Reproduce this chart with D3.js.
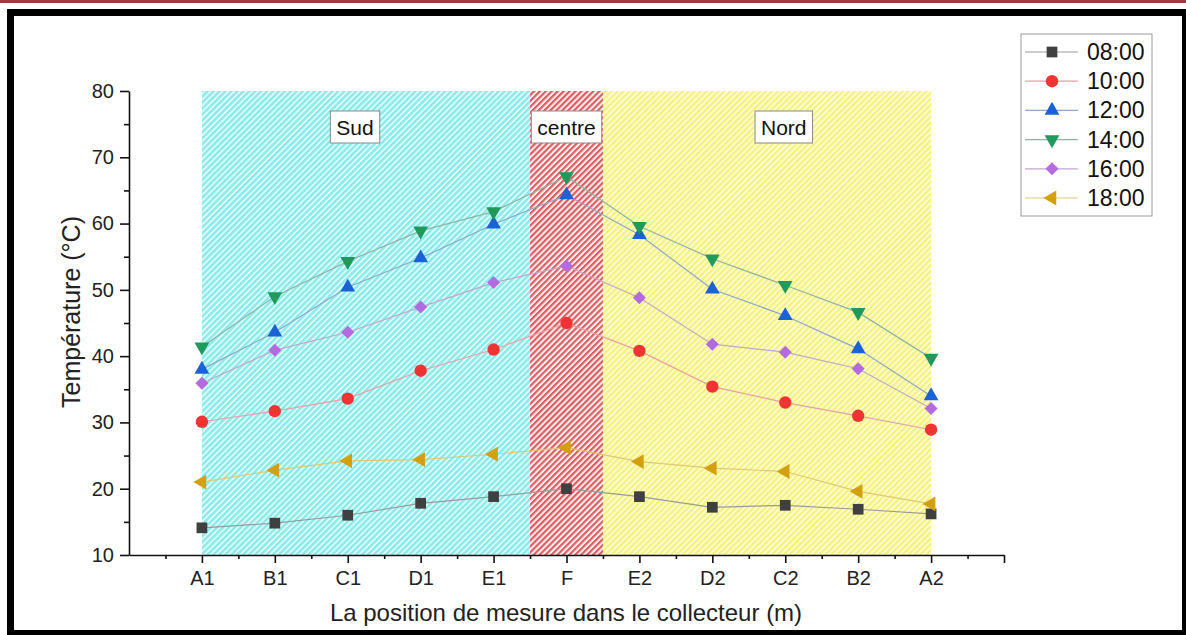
<!DOCTYPE html>
<html>
<head>
<meta charset="utf-8">
<script src="https://cdn.jsdelivr.net/npm/d3@7"></script>
<style>
    body { margin: 0; background: #fff; }
    svg { display: block; font-family: Arial, "Liberation Sans", sans-serif; }
</style>
</head>
<body>
<div id="chart"></div>
<script>
// positions along the collector
var positions = ["A1", "B1", "C1", "D1", "E1", "F", "E2", "D2", "C2", "B2", "A2"];
var hours = ["08:00", "10:00", "12:00", "14:00", "16:00", "18:00"];

// temperatures (°C)
var t0800 = [14.1, 14.8, 16.0, 17.8, 18.8, 20.0, 18.8, 17.2, 17.5, 16.9, 16.2];
var t1000 = [30.1, 31.7, 33.6, 37.8, 41.0, 45.0, 40.8, 35.4, 33.0, 31.0, 28.9];
var t1200 = [38.0, 43.6, 50.4, 54.8, 59.9, 64.3, 58.3, 50.1, 46.1, 41.1, 34.0];
var t1400 = [41.4, 49.0, 54.3, 58.9, 61.8, 67.1, 59.6, 54.7, 50.7, 46.6, 39.7];
var t1600 = [35.9, 40.9, 43.6, 47.4, 51.1, 53.6, 48.8, 41.8, 40.6, 38.1, 32.1];
var t1800 = [21.0, 22.8, 24.2, 24.4, 25.2, 26.2, 24.1, 23.1, 22.6, 19.6, 17.7];

// zones: [label, start index, end index, label position]
var zones = [["Sud", 0, 4.5, 2.1], ["centre", 4.5, 5.5, 5], ["Nord", 5.5, 10, 7.98]];

var yTicks = [10, 20, 30, 40, 50, 60, 70, 80];

var width = 1186,
    height = 635;

var svg = d3.select("#chart").append("svg")
        .attr("width", width)
        .attr("height", height);

// scales - plot box
var x = d3.scaleLinear().domain([-1, 11]).range([129, 1004]);
var y = d3.scaleLinear().domain([10, 80]).range([555, 91]);

// hatch patterns for the zones
var defs = svg.append("defs");
var hatch = [
    {id: "hSud", bg: "#f4ffff", fg: "#8cecec", w: 2.8},
    {id: "hCentre", bg: "#fff2f2", fg: "#e05c61", w: 2.2},
    {id: "hNord", bg: "#fffff4", fg: "#f7f383", w: 2.9}
];
hatch.forEach(function(h) {
    var p = defs.append("pattern")
            .attr("id", h.id)
            .attr("patternUnits", "userSpaceOnUse")
            .attr("width", 4.2)
            .attr("height", 4.2)
            .attr("patternTransform", "rotate(45)");
    p.append("rect").attr("width", 4.2).attr("height", 4.2).attr("fill", h.bg);
    p.append("rect").attr("width", h.w).attr("height", 4.2).attr("fill", h.fg);
});
var zoneFill = ["url(#hSud)", "url(#hCentre)", "url(#hNord)"];

svg.selectAll("rect.zone")
        .data(zones)
        .enter().append("rect")
        .attr("class", "zone")
        .attr("x", function(d) { return x(d[1]); })
        .attr("y", y(80))
        .attr("width", function(d) { return x(d[2]) - x(d[1]); })
        .attr("height", y(10) - y(80))
        .attr("fill", function(d, i) { return zoneFill[i]; });

// zone labels in little boxes
var zl = svg.selectAll("g.zlabel")
        .data(zones)
        .enter().append("g")
        .attr("class", "zlabel");
zl.append("text")
        .attr("x", function(d) { return x(d[3]); })
        .attr("y", 135)
        .attr("text-anchor", "middle")
        .attr("font-size", 21)
        .attr("fill", "#111")
        .text(function(d) { return d[0]; });
zl.each(function() {
    var g = d3.select(this), b = g.select("text").node().getBBox();
    g.insert("rect", "text")
            .attr("x", b.x - 6)
            .attr("y", 111)
            .attr("width", b.width + 12)
            .attr("height", 32)
            .attr("fill", "#fff")
            .attr("stroke", "#8a8a8a")
            .attr("stroke-width", 1);
});

// axes
svg.append("g")
        .attr("transform", "translate(" + x(-1) + ",0)")
        .call(d3.axisLeft(y).tickValues(yTicks).tickSize(9).tickSizeOuter(0).tickPadding(6));
svg.append("g")
        .attr("transform", "translate(" + x(-1) + ",0)")
        .call(d3.axisLeft(y).tickValues(d3.range(15, 80, 10)).tickSize(5).tickFormat(""))
        .select(".domain").remove();

svg.append("g")
        .attr("transform", "translate(0," + y(10) + ")")
        .call(d3.axisBottom(x).tickValues(d3.range(0, 12)).tickSize(8).tickSizeOuter(0).tickPadding(8)
                .tickFormat(function(d) { return positions[d] || ""; }));
svg.append("g")
        .attr("transform", "translate(0," + y(10) + ")")
        .call(d3.axisBottom(x).tickValues(d3.range(-0.5, 11, 1)).tickSize(4).tickFormat(""))
        .select(".domain").remove();

svg.selectAll(".tick text").attr("font-size", 20).attr("fill", "#222").attr("font-family", null);
svg.selectAll(".domain, .tick line").attr("stroke", "#111").attr("stroke-width", 1.6);

// axis titles
svg.append("text")
        .attr("transform", "translate(80,312) rotate(-90)")
        .attr("text-anchor", "middle")
        .attr("font-size", 25)
        .attr("fill", "#222")
        .text("Température (°C)");
svg.append("text")
        .attr("x", 566)
        .attr("y", 621)
        .attr("text-anchor", "middle")
        .attr("font-size", 24)
        .attr("fill", "#222")
        .text("La position de mesure dans le collecteur (m)");

// series styles
var series = [
    {name: hours[0], values: t0800, color: "#404040", line: "#9a9a9a", sym: d3.symbolSquare, size: 115, rot: 0},
    {name: hours[1], values: t1000, color: "#f03434", line: "#e8a0a6", sym: d3.symbolCircle, size: 120, rot: 0},
    {name: hours[2], values: t1200, color: "#1a62d6", line: "#8aa8c8", sym: d3.symbolTriangle, size: 95, rot: 0},
    {name: hours[3], values: t1400, color: "#1f9a5c", line: "#8fb4a4", sym: d3.symbolTriangle, size: 95, rot: 180},
    {name: hours[4], values: t1600, color: "#b46ae0", line: "#c0a8cc", sym: d3.symbolSquare, size: 85, rot: 45},
    {name: hours[5], values: t1800, color: "#d4a010", line: "#e0c870", sym: d3.symbolTriangle, size: 95, rot: -90}
];

var line = d3.line()
        .x(function(d, i) { return x(i); })
        .y(function(d) { return y(d); });

series.forEach(function(s) {
    svg.append("path")
            .attr("d", line(s.values))
            .attr("fill", "none")
            .attr("stroke", s.line)
            .attr("stroke-width", 1.2);
});
series.forEach(function(s) {
    svg.selectAll(null)
            .data(s.values)
            .enter().append("path")
            .attr("d", d3.symbol().type(s.sym).size(s.size))
            .attr("transform", function(d, i) {
                return "translate(" + x(i) + "," + y(d) + ") rotate(" + s.rot + ")";
            })
            .attr("fill", s.color);
});

// legend
var lg = svg.append("g").attr("transform", "translate(1021,34)");
lg.append("rect")
        .attr("width", 131)
        .attr("height", 182)
        .attr("fill", "#fff")
        .attr("stroke", "#9a9a9a")
        .attr("stroke-width", 1);
var item = lg.selectAll("g.item")
        .data(series)
        .enter().append("g")
        .attr("transform", function(d, i) { return "translate(0," + (18 + i * 29.2) + ")"; });
item.append("line")
        .attr("x1", 4).attr("x2", 57)
        .attr("stroke", function(d) { return d.line; })
        .attr("stroke-width", 1.2);
item.append("path")
        .attr("d", function(d) { return d3.symbol().type(d.sym).size(d.size)(); })
        .attr("transform", function(d) { return "translate(31,0) rotate(" + d.rot + ")"; })
        .attr("fill", function(d) { return d.color; });
item.append("text")
        .attr("x", 66)
        .attr("y", 8)
        .attr("font-size", 23)
        .attr("fill", "#111")
        .text(function(d) { return d.name; });

// page frame
svg.append("rect")
        .attr("width", width).attr("height", 3)
        .attr("fill", "#9c3a3d");
svg.append("rect")
        .attr("x", 10.5).attr("y", 12.5)
        .attr("width", 1175).attr("height", 621)
        .attr("fill", "none")
        .attr("stroke", "#000")
        .attr("stroke-width", 7);
</script>
</body>
</html>
